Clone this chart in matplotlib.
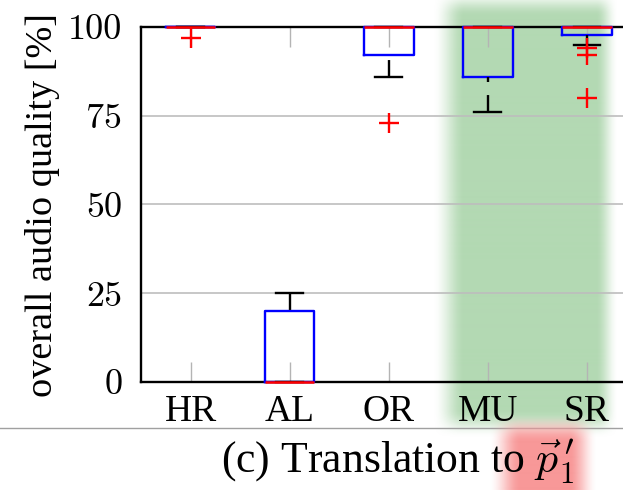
import numpy as np
import matplotlib
matplotlib.use("Agg")
import matplotlib.pyplot as plt

plt.rcParams['font.family'] = 'serif'
plt.rcParams['font.serif'] = ['Liberation Serif', 'DejaVu Serif']
plt.rcParams['mathtext.fontset'] = 'cm'
plt.rcParams['lines.scale_dashes'] = False

# ---- data ----
categories = ['HR', 'AL', 'OR', 'MU', 'SR']
medians = [100, 0, 100, 100, 100]
q1 = [100, 0, 92, 86, 97.75]
q3 = [100, 20, 100, 100, 100]
whis_lo = [100, 0, 86, 76, 95]
whis_hi = [100, 25, 100, 100, 100]
fliers = [[97], [], [73], [], [94, 92, 80]]
yticks = [0, 25, 50, 75, 100]
ylabel = 'overall audio quality [%]'
caption = r"(c) Translation to $\vec{p}^{\,\prime}_{1}$"

W, H = 623, 490
fig = plt.figure(figsize=(W / 100, H / 100), dpi=100)

# ---- background highlight layer ----
bg = fig.add_axes([0, 0, 1, 1], zorder=0)
bg.set_xlim(0, W)
bg.set_ylim(H, 0)
bg.axis('off')

xx = np.arange(W) + 0.5
yy = np.arange(H) + 0.5


def soft(v, lo, hi, wlo, whi):
    a = np.clip((v - (lo - wlo / 2)) / wlo, 0, 1)
    b = np.clip(((hi + whi / 2) - v) / whi, 0, 1)
    a = a * a * (3 - 2 * a)
    b = b * b * (3 - 2 * b)
    return a * b


def blob(color, x0, x1, y0, y1, wl, wr, wt, wb):
    alpha = np.outer(soft(yy, y0, y1, wt, wb), soft(xx, x0, x1, wl, wr))
    img = np.zeros((H, W, 4))
    img[..., 0] = color[0] / 255
    img[..., 1] = color[1] / 255
    img[..., 2] = color[2] / 255
    img[..., 3] = alpha
    return img


green = blob((179, 217, 179), 449, 607, 4, 424, 32, 22, 26, 28)
red = blob((248, 152, 152), 505, 583, 428, 520, 32, 28, 28, 10)
bg.imshow(green, extent=[0, W, H, 0], aspect='auto', zorder=0, interpolation='bilinear')
bg.plot([0, W], [428, 428], color='#a0a0a0', lw=1.0, zorder=1)
bg.imshow(red, extent=[0, W, H, 0], aspect='auto', zorder=2, interpolation='bilinear')

# ---- main axes ----
left, right, top, bottom = 141, 636.5, 27, 382
ax = fig.add_axes([left / W, 1 - bottom / H, (right - left) / W, (bottom - top) / H], zorder=1)
ax.set_facecolor('none')

positions = np.arange(1, len(categories) + 1)
stats = []
for i in range(len(categories)):
    stats.append(dict(med=medians[i], q1=q1[i], q3=q3[i], whislo=whis_lo[i],
                      whishi=whis_hi[i], fliers=fliers[i], label=categories[i]))

bp = ax.bxp(stats, positions=positions, widths=0.5, capwidths=0.27,
            boxprops=dict(color='#0000ff', linewidth=1.7),
            medianprops=dict(color='#ff0000', linewidth=1.8),
            whiskerprops=dict(color='black', linewidth=1.7, linestyle=(0, (12.2, 9.4))),
            capprops=dict(color='black', linewidth=1.7),
            flierprops=dict(marker='+', markeredgecolor='#ff0000', markersize=14,
                            markeredgewidth=1.7, linestyle='none'),
            zorder=3)

for w in bp['whiskers']:
    x, y = w.get_data()
    w.set_data(np.asarray(x)[::-1], np.asarray(y)[::-1])
    w.set_clip_on(False)
for el in bp['boxes'] + bp['caps']:
    el.set_clip_on(False)
for el in bp['medians']:
    el.set_clip_on(False)
    el.set_zorder(4)
for el in bp['fliers']:
    el.set_clip_on(False)
    el.set_zorder(3.5)

ax.set_xlim(0.5, len(categories) + 0.5)
ax.set_ylim(0, 100)
ax.set_yticks(yticks)
ax.set_yticklabels([str(t) for t in yticks], fontfamily='cmr10')
ax.set_xticks(positions)
ax.set_xticklabels(categories)
ax.yaxis.grid(True, color='#bdbdbd', linewidth=1.2)
ax.tick_params(axis='y', length=0, pad=13.5, labelsize=26)
ax.tick_params(axis='x', direction='in', length=14.5, width=1.0, color='#b4b4b4',
               top=True, pad=9, labelsize=27)
for s in ax.spines.values():
    s.set_linewidth(1.7)
    s.set_color('black')
ax.set_ylabel(ylabel, fontsize=27.5, labelpad=6)

fig.text(398 / W, 1 - 461 / H, caption, ha='center', va='center', fontsize=31.5, zorder=5)

fig.savefig('out.png', dpi=100)
